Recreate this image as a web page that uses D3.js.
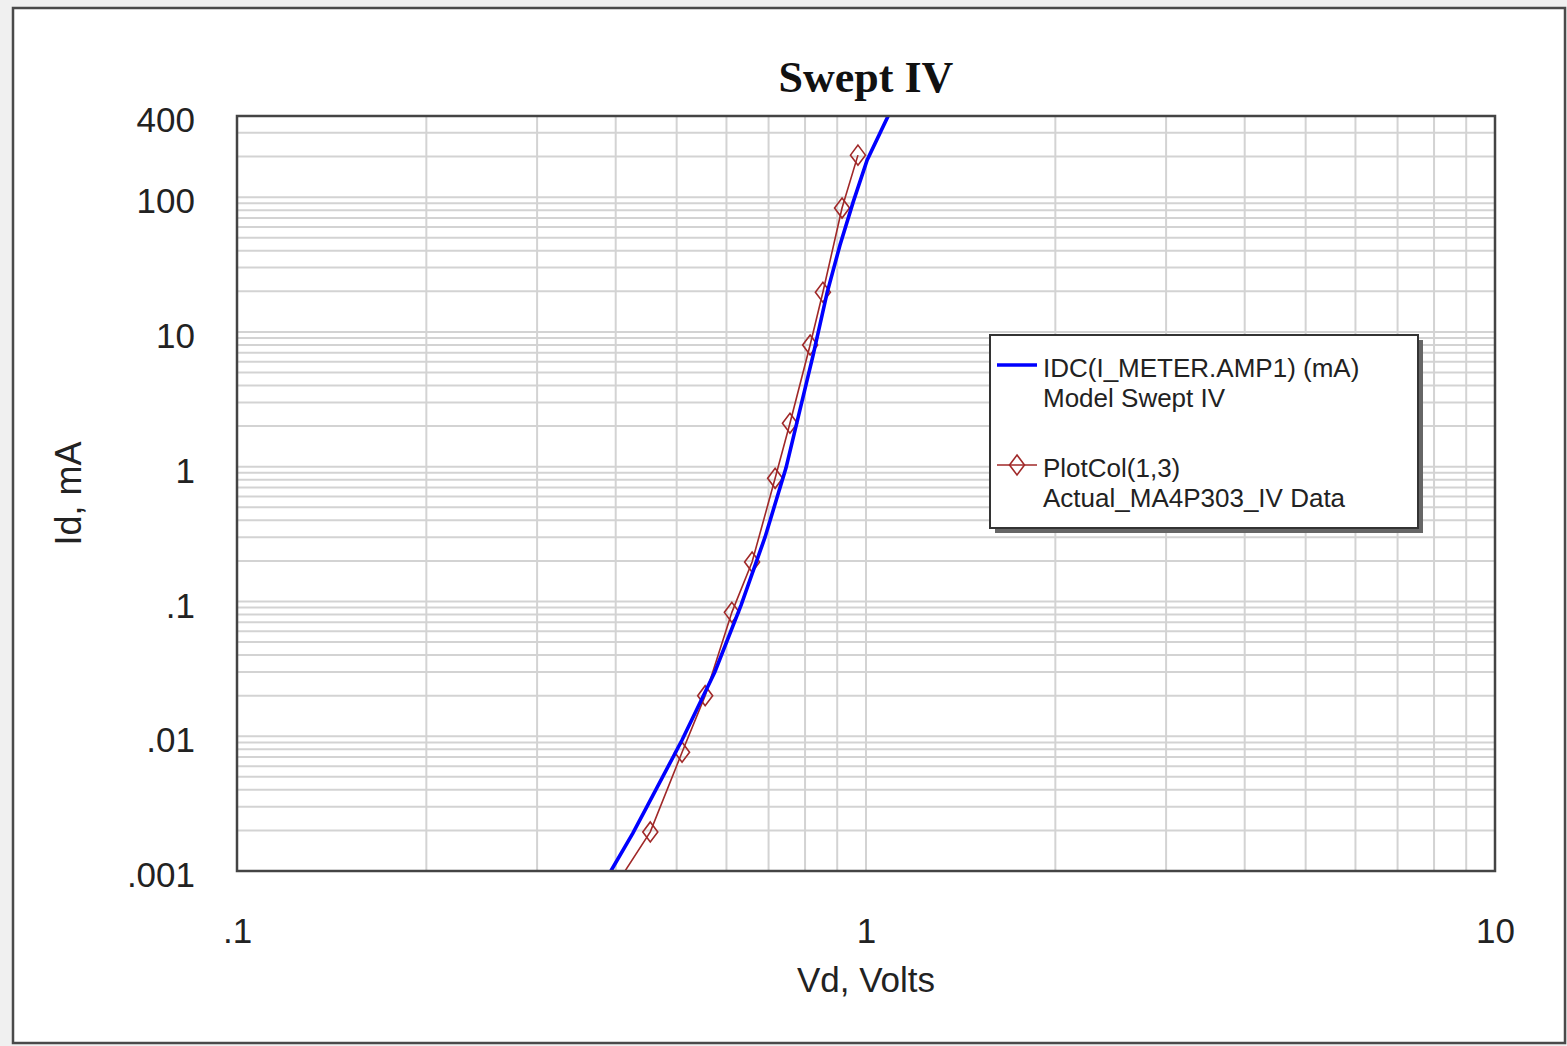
<!DOCTYPE html>
<html><head><meta charset="utf-8">
<script src="https://cdn.jsdelivr.net/npm/d3@7"></script>
<style>html,body{margin:0;padding:0;background:#f0f0f0;} svg{display:block;}</style>
</head><body>
<svg id="chart" width="1567" height="1046"></svg>
<script>
// ---- data ----
const chartTitle = "Swept IV";
const xAxisTitle = "Vd, Volts";
const yAxisTitle = "Id, mA";
const xDomain = [0.1, 10];
const yDomain = [0.001, 400];
const xTickValues = [0.1, 1, 10];
const xTickLabels = [".1", "1", "10"];
const yTickValues = [0.001, 0.01, 0.1, 1, 10, 100, 400];
const yTickLabels = [".001", ".01", ".1", "1", "10", "100", "400"];
const gridMultipliers = [1, 2, 3, 4, 5, 6, 7, 8, 9];
const xDecades = [0.1, 1];
const yDecades = [0.001, 0.01, 0.1, 1, 10, 100];

// Model Swept IV (blue)
const modelVolts   = [0.393, 0.426, 0.450, 0.510, 0.575, 0.633, 0.691, 0.746, 0.785, 0.824, 0.867, 0.909, 0.954, 1.004, 1.084];
const modelCurrent = [0.001, 0.00191, 0.00309, 0.00937, 0.030, 0.094, 0.300, 0.976, 2.63, 6.73, 19.4, 44.0, 91.8, 188, 399];

// Actual_MA4P303_IV Data (dark red, diamonds)
const measVolts   = [0.376, 0.454, 0.510, 0.555, 0.612, 0.659, 0.717, 0.757, 0.815, 0.854, 0.916, 0.971];
const measCurrent = [0.0005, 0.00195, 0.0076, 0.020, 0.083, 0.196, 0.82, 2.1, 8.0, 19.7, 83, 205];

const legendLines = [
  ["IDC(I_METER.AMP1) (mA)", "Model Swept IV"],
  ["PlotCol(1,3)", "Actual_MA4P303_IV Data"]
];
const seriesColors = ["#0000ff", "#a02828"];

// ---- drawing ----
const svg = d3.select("#chart");
const plot = {left: 237, top: 116, right: 1495, bottom: 871};
const x = d3.scaleLog().domain(xDomain).range([plot.left, plot.right]);
const y = d3.scaleLog().domain(yDomain).range([plot.bottom, plot.top]);
const textColor = "#222";
const sans = "'Liberation Sans', Arial, sans-serif";

// outer frame
svg.append("rect").attr("x", 13).attr("y", 8).attr("width", 1552).attr("height", 1035)
  .attr("fill", "#fff").attr("stroke", "#4a4a4a").attr("stroke-width", 2.5);

// clip
svg.append("defs").append("clipPath").attr("id", "plotClip")
  .append("rect").attr("x", plot.left).attr("y", plot.top)
  .attr("width", plot.right - plot.left).attr("height", plot.bottom - plot.top);

// grid
const xGrid = [];
xDecades.forEach(d => gridMultipliers.forEach(m => { const v = d * m; if (v > xDomain[0] && v < xDomain[1]) xGrid.push(v); }));
const yGrid = [];
yDecades.forEach(d => gridMultipliers.forEach(m => { const v = d * m; if (v > yDomain[0] && v < yDomain[1]) yGrid.push(v); }));

const grid = svg.append("g").attr("stroke", "#d3d3d3").attr("stroke-width", 2);
grid.selectAll("line.gx").data(xGrid).join("line").attr("class", "gx")
  .attr("x1", d => x(d)).attr("x2", d => x(d)).attr("y1", plot.top).attr("y2", plot.bottom);
grid.selectAll("line.gy").data(yGrid).join("line").attr("class", "gy")
  .attr("y1", d => y(d)).attr("y2", d => y(d)).attr("x1", plot.left).attr("x2", plot.right);

// series
const gData = svg.append("g").attr("clip-path", "url(#plotClip)");
const modelPts = modelVolts.map((v, i) => [v, modelCurrent[i]]);
const measPts = measVolts.map((v, i) => [v, measCurrent[i]]);
const line = d3.line().x(d => x(d[0])).y(d => y(d[1]));

const diamond = "M0,-10L7.5,0L0,10L-7.5,0Z";

gData.append("path").datum(measPts).attr("d", line)
  .attr("fill", "none").attr("stroke", seriesColors[1]).attr("stroke-width", 1.6);
gData.selectAll("path.mk").data(measPts).join("path").attr("class", "mk")
  .attr("d", diamond).attr("transform", d => `translate(${x(d[0])},${y(d[1])})`)
  .attr("fill", "none").attr("stroke", seriesColors[1]).attr("stroke-width", 1.6);
gData.append("path").datum(modelPts).attr("d", line)
  .attr("fill", "none").attr("stroke", seriesColors[0]).attr("stroke-width", 3.6);

// plot frame
svg.append("rect").attr("x", plot.left).attr("y", plot.top)
  .attr("width", plot.right - plot.left).attr("height", plot.bottom - plot.top)
  .attr("fill", "none").attr("stroke", "#444").attr("stroke-width", 2.5);

// axes
const yAxis = d3.axisLeft(y).tickValues(yTickValues).tickFormat((d, i) => yTickLabels[i])
  .tickSize(0).tickPadding(42);
const gy = svg.append("g").attr("transform", `translate(${plot.left},0)`).call(yAxis);
gy.select(".domain").remove();
gy.selectAll("text").attr("dy", "0.45em").style("font-family", sans).style("font-size", "35px").attr("fill", textColor);

const xAxis = d3.axisBottom(x).tickValues(xTickValues).tickFormat((d, i) => xTickLabels[i])
  .tickSize(0).tickPadding(47);
const gx = svg.append("g").attr("transform", `translate(0,${plot.bottom})`).call(xAxis);
gx.select(".domain").remove();
gx.selectAll("text").style("font-family", sans).style("font-size", "35px").attr("fill", textColor);

// titles
svg.append("text").attr("x", (plot.left + plot.right) / 2).attr("y", 92)
  .attr("text-anchor", "middle").style("font-family", "'Liberation Serif', 'Times New Roman', serif")
  .style("font-weight", "bold").style("font-size", "44px").attr("fill", "#111").text(chartTitle);
svg.append("text").attr("x", (plot.left + plot.right) / 2).attr("y", 992)
  .attr("text-anchor", "middle").style("font-family", sans).style("font-size", "35px")
  .attr("fill", textColor).text(xAxisTitle);
svg.append("text").attr("transform", `translate(81,${(plot.top + plot.bottom) / 2}) rotate(-90)`)
  .attr("text-anchor", "middle").style("font-family", sans).style("font-size", "36px")
  .attr("fill", textColor).text(yAxisTitle);

// legend
const lg = {x: 990, y: 335, w: 428, h: 193};
svg.append("rect").attr("x", lg.x + 5).attr("y", lg.y + 5).attr("width", lg.w).attr("height", lg.h)
  .attr("fill", "#666");
svg.append("rect").attr("x", lg.x).attr("y", lg.y).attr("width", lg.w).attr("height", lg.h)
  .attr("fill", "#fff").attr("stroke", "#333").attr("stroke-width", 2);
const legendRowY = [30, 130];
legendLines.forEach((lines, i) => {
  const g = svg.append("g").attr("transform", `translate(${lg.x},${lg.y + legendRowY[i]})`);
  g.append("line").attr("x1", 7).attr("x2", 47).attr("y1", 0).attr("y2", 0)
    .attr("stroke", seriesColors[i]).attr("stroke-width", i === 0 ? 3.6 : 1.6);
  if (i === 1) {
    g.append("path").attr("d", diamond).attr("transform", "translate(27,0)")
      .attr("fill", "none").attr("stroke", seriesColors[i]).attr("stroke-width", 1.6);
  }
  lines.forEach((t, j) => {
    g.append("text").attr("x", 53).attr("y", 12 + j * 30)
      .style("font-family", sans).style("font-size", "26px").attr("fill", textColor).text(t);
  });
});
</script>
</body></html>
